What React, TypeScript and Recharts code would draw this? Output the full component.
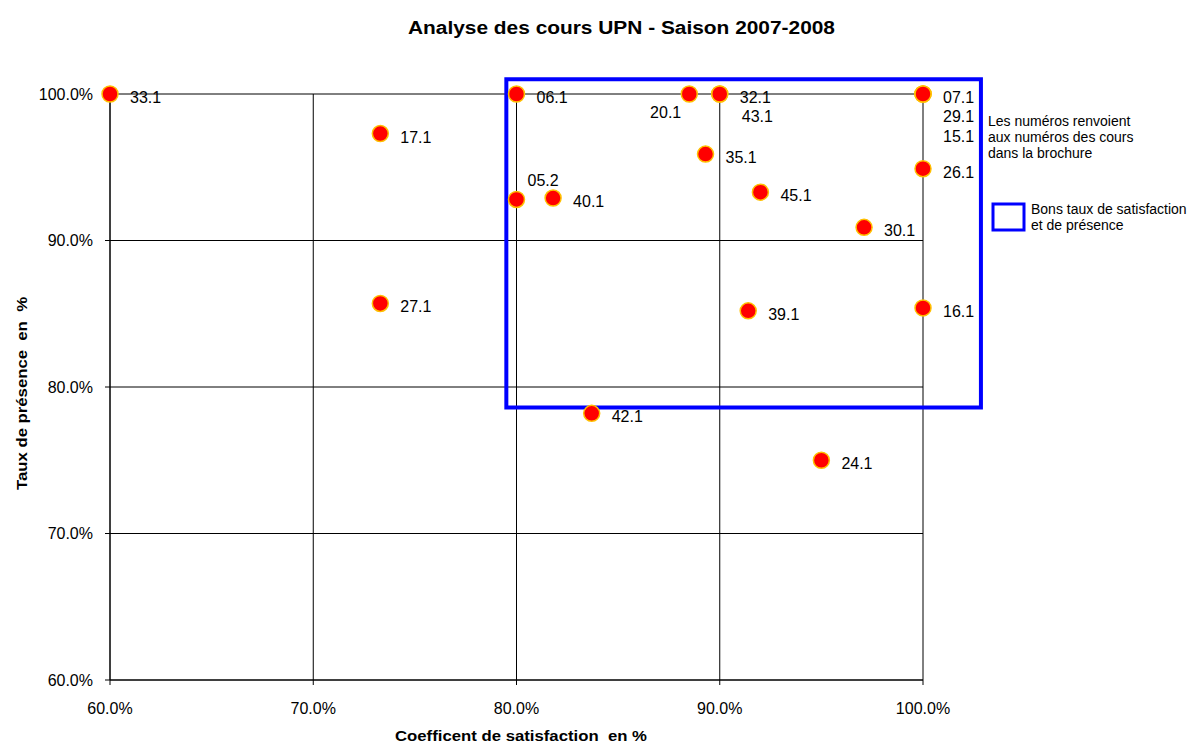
import React from 'react';
import { ScatterChart, Scatter, XAxis, YAxis, CartesianGrid, ReferenceArea, Customized } from 'recharts';

// cours : [coefficient de satisfaction %, taux de présence %]
const courseIds = ['33.1', '17.1', '27.1', '06.1', '05.2', '40.1', '42.1', '20.1', '35.1', '32.1', '43.1', '45.1', '39.1', '24.1', '30.1', '07.1', '29.1', '15.1', '26.1', '16.1'];
const satisfaction = [60, 73.3, 73.3, 80, 80, 81.8, 83.7, 88.5, 89.3, 90, 90, 92, 91.4, 95, 97.1, 100, 100, 100, 100, 100];
const presence = [100, 97.3, 85.7, 100, 92.8, 92.9, 78.2, 100, 95.9, 100, 100, 93.3, 85.2, 75, 90.9, 100, 100, 100, 94.9, 85.4];

const xTicks = [60, 70, 80, 90, 100];
const yTicks = [60, 70, 80, 90, 100];

// zone "bons taux" (en unités des axes)
const goodZoneX = [79.5, 102.85];
const goodZoneY = [78.6, 101.0];

const data = courseIds.map((id, i) => ({ id, x: satisfaction[i], y: presence[i] }));

const FONT = '"Liberation Sans", Arial, sans-serif';

// placement particulier de quelques étiquettes superposées
const labelPos: Record<string, { dx: number; dy: number; anchor?: 'start' | 'end' }> = {
  '20.1': { dx: -8, dy: 24, anchor: 'end' },
  '43.1': { dx: 22, dy: 28 },
  '29.1': { dx: 20, dy: 28 },
  '15.1': { dx: 20, dy: 48 },
  '05.2': { dx: 11, dy: -13 },
};

const Dot = (props: any) => {
  const { cx, cy, payload } = props;
  const p = labelPos[payload.id] || { dx: 20, dy: 9 };
  return (
    <g>
      <circle cx={cx} cy={cy} r={8} fill="#FF0000" stroke="#FFC000" strokeWidth={1.5} />
      <text x={cx + p.dx} y={cy + p.dy} textAnchor={p.anchor || 'start'} fontSize={16} fontFamily={FONT} fill="#000">
        {payload.id}
      </text>
    </g>
  );
};

const Texts = () => (
  <g fontFamily={FONT} fill="#000">
    <text x={408} y={34} fontSize={18} fontWeight="bold" textLength={427} lengthAdjust="spacingAndGlyphs">
      Analyse des cours UPN - Saison 2007-2008
    </text>
    <text x={395} y={741} fontSize={15} fontWeight="bold" textLength={252} lengthAdjust="spacingAndGlyphs" style={{ whiteSpace: 'pre' }}>
      Coefficent de satisfaction  en %
    </text>
    <text x={27} y={490} fontSize={15} fontWeight="bold" textLength={193} lengthAdjust="spacingAndGlyphs" transform="rotate(-90 27 490)" style={{ whiteSpace: 'pre' }}>
      Taux de présence  en  %
    </text>
    <text x={988} y={126} fontSize={14}>Les numéros renvoient</text>
    <text x={988} y={142} fontSize={14}>aux numéros des cours</text>
    <text x={988} y={158} fontSize={14}>dans la brochure</text>
    <rect x={993} y={204} width={31} height={26} fill="none" stroke="#0000FF" strokeWidth={3} />
    <text x={1031} y={214} fontSize={14}>Bons taux de satisfaction</text>
    <text x={1031} y={230} fontSize={14}>et de présence</text>
  </g>
);

export default function App() {
  const fmt = (v: number) => v.toFixed(1) + '%';
  return (
    <div style={{ position: 'absolute', left: 0, top: 0, width: 1192, height: 743, background: '#fff' }}>
      <ScatterChart width={1192} height={743} margin={{ top: 94, right: 269, bottom: 33, left: 40 }}>
        <CartesianGrid stroke="#000" strokeWidth={1} horizontalValues={yTicks} verticalValues={xTicks} />
        <XAxis
          type="number"
          dataKey="x"
          domain={[60, 100]}
          ticks={xTicks}
          tickFormatter={fmt}
          height={30}
          tickSize={5}
          tickMargin={18}
          stroke="#000"
          tick={{ fill: '#000', fontSize: 16, fontFamily: FONT }}
        />
        <YAxis
          type="number"
          dataKey="y"
          domain={[60, 100]}
          ticks={yTicks}
          tickFormatter={fmt}
          width={70}
          tickSize={5}
          tickMargin={12}
          stroke="#000"
          tick={{ fill: '#000', fontSize: 16, fontFamily: FONT }}
        />
        <ReferenceArea
          x1={goodZoneX[0]}
          x2={goodZoneX[1]}
          y1={goodZoneY[0]}
          y2={goodZoneY[1]}
          ifOverflow="visible"
          fill="none"
          fillOpacity={0}
          stroke="#0000FF"
          strokeWidth={4}
        />
        <Scatter data={data} shape={Dot} isAnimationActive={false} />
        <Customized component={Texts} />
      </ScatterChart>
    </div>
  );
}
